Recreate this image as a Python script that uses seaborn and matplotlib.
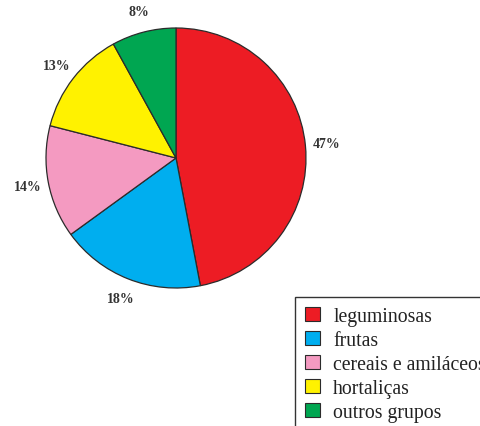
import matplotlib
matplotlib.use("Agg")
import matplotlib.pyplot as plt
from matplotlib.patches import Patch
import seaborn as sns

categories = ["leguminosas", "frutas", "cereais e amiláceos", "hortaliças", "outros grupos"]
shares = [47, 18, 14, 13, 8]
pct_labels = ["47%", "18%", "14%", "13%", "8%"]
colors = ["#ED1C24", "#00AEEF", "#F49AC1", "#FFF200", "#00A651"]

sns.set_theme(style="white")
plt.rcParams["font.family"] = ["Liberation Serif", "DejaVu Serif"]

W, H = 480, 427
fig = plt.figure(figsize=(W / 100, H / 100), dpi=100)
fig.patch.set_facecolor("white")

# square axes holding the pie: centre (176, 159) px, radius 130 px
cx, cy, r = 176, 159, 130
ax = fig.add_axes([(cx - r) / W, 1 - (cy + r) / H, 2 * r / W, 2 * r / H])
palette = sns.color_palette(colors)
wedges, texts = ax.pie(
    shares,
    labels=pct_labels,
    colors=palette,
    startangle=90,
    counterclock=False,
    labeldistance=1.16,
    wedgeprops=dict(edgecolor="#2b2b2b", linewidth=0.9),
    textprops=dict(fontsize=10, fontweight="bold", color="#333333",
                   ha="center", va="center"),
)
for t in texts:
    t.set_horizontalalignment("center")
ax.set_xlim(-1, 1)
ax.set_ylim(-1, 1)
ax.set_aspect("equal")
ax.axis("off")

# legend box anchored near the lower right, running past the figure edge
handles = [Patch(facecolor=c, edgecolor="#2b2b2b", linewidth=0.8) for c in palette]
leg = fig.legend(
    handles, categories,
    loc="upper left",
    bbox_to_anchor=(295 / W, 1 - 298 / H),
    frameon=True,
    fancybox=False,
    fontsize=14.2,
    handlelength=0.76,
    handleheight=0.72,
    handletextpad=0.68,
    labelspacing=0.25,
    borderpad=0.5,
    borderaxespad=0,
)
frame = leg.get_frame()
frame.set_edgecolor("#333333")
frame.set_linewidth(1.0)
frame.set_alpha(1)
for t in leg.get_texts():
    t.set_color("#222222")

fig.savefig("out.png", dpi=100, facecolor="white")
